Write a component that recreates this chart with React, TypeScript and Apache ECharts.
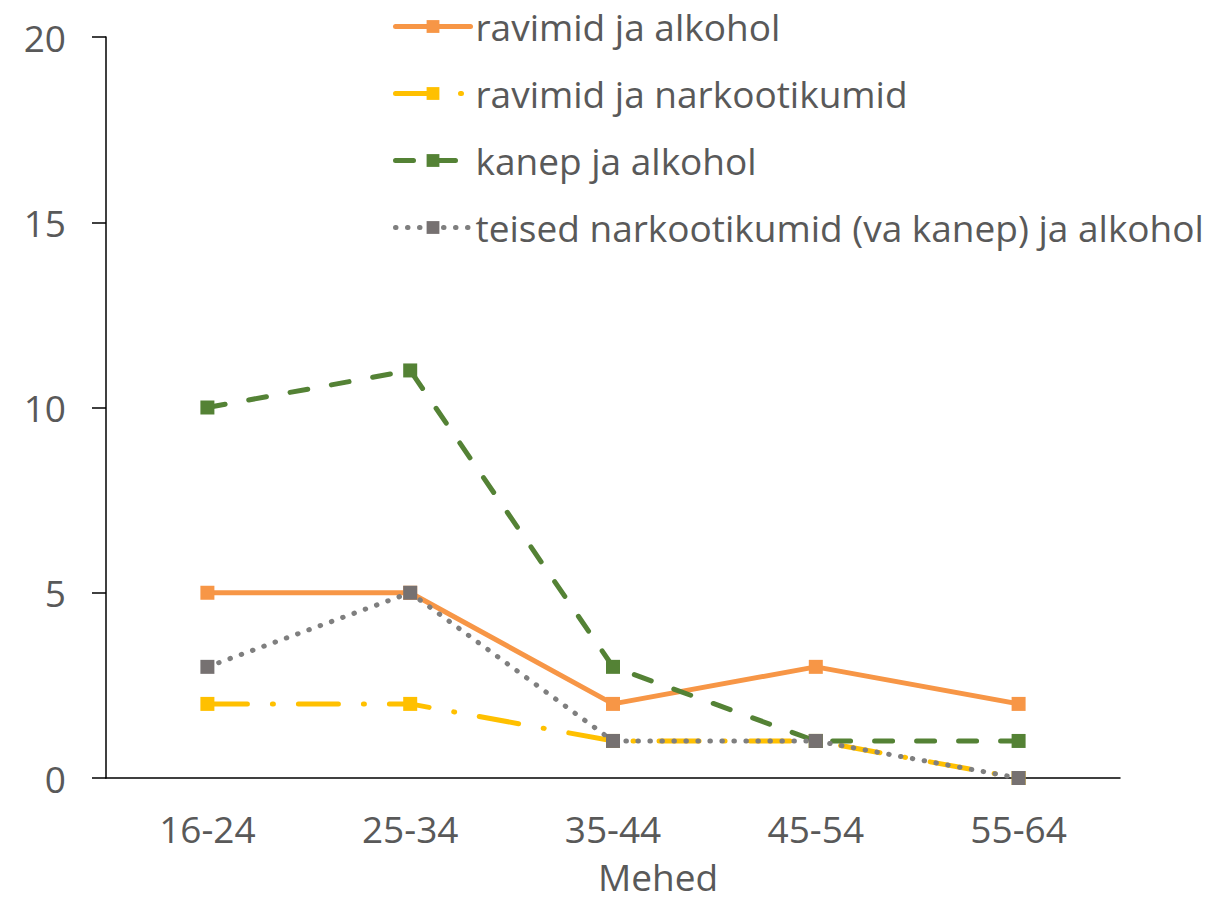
import React, { useEffect, useRef } from "react";
import * as echarts from "echarts";

const categories = ["16-24", "25-34", "35-44", "45-54", "55-64"];
const ravimidAlkohol = [5, 5, 2, 3, 2];
const ravimidNarko = [2, 2, 1, 1, 0];
const kanepAlkohol = [10, 11, 3, 1, 1];
const teised = [3, 5, 1, 1, 0];
const yTicks = { min: 0, max: 20, interval: 5 };

const FONT = "'Open Sans', sans-serif";
const TXT = "#595959";
const FS = 37;

export default function App() {
  const ref = useRef<HTMLDivElement>(null);
  useEffect(() => {
    if (!ref.current) return;
    const chart = echarts.init(ref.current, undefined, { renderer: "svg" });
    const mk = (name: string, data: number[], color: string, markerColor: string, type: any, z: number) => ({
      name,
      type: "line",
      data,
      z,
      symbol: "rect",
      symbolSize: 14,
      itemStyle: { color: markerColor },
      lineStyle: { color, width: 5, type, cap: "round" },
    });
    chart.setOption({
      animation: false,
      textStyle: { fontFamily: FONT },
      grid: { left: 106, right: 91, top: 37, bottom: 128, containLabel: false },
      legend: {
        orient: "vertical",
        left: 388,
        top: 1,
        itemWidth: 75,
        itemHeight: 16,
        itemGap: 26,
        lineStyle: { width: 5 },
        textStyle: { fontSize: FS, color: TXT, fontFamily: FONT, lineHeight: 41 },
        data: [
          "ravimid ja alkohol",
          "ravimid ja narkootikumid",
          "kanep ja alkohol",
          "teised narkootikumid (va kanep) ja alkohol",
        ],
      },
      xAxis: {
        type: "category",
        data: categories,
        boundaryGap: true,
        name: "Mehed",
        nameLocation: "middle",
        nameGap: 80,
        nameTextStyle: { fontSize: FS, color: TXT, fontFamily: FONT, padding: [0, 0, 0, 90] },
        axisLine: { lineStyle: { color: "#000", width: 1.5 } },
        axisTick: { length: 14, lineStyle: { color: "#000", width: 1.5 } },
        axisLabel: { fontSize: FS, color: TXT, margin: 32, fontFamily: FONT },
      },
      yAxis: {
        type: "value",
        min: yTicks.min,
        max: yTicks.max,
        interval: yTicks.interval,
        splitLine: { show: false },
        axisLine: { show: true, lineStyle: { color: "#000", width: 1.5 } },
        axisTick: { show: true, length: 14, lineStyle: { color: "#000", width: 1.5 } },
        axisLabel: { fontSize: FS, color: TXT, margin: 40, fontFamily: FONT },
      },
      series: [
        mk("ravimid ja alkohol", ravimidAlkohol, "#F79646", "#F79646", "solid", 2),
        mk("ravimid ja narkootikumid", ravimidNarko, "#FFC000", "#FFC000", [40, 25, 1, 25], 3),
        mk("kanep ja alkohol", kanepAlkohol, "#548235", "#548235", [18, 24], 4),
        mk("teised narkootikumid (va kanep) ja alkohol", teised, "#7F7F7F", "#767171", [0.5, 11.5], 5),
      ],
    });
    return () => chart.dispose();
  }, []);
  return <div ref={ref} style={{ position: "absolute", left: 0, top: 0, width: 1211, height: 906 }} />;
}
